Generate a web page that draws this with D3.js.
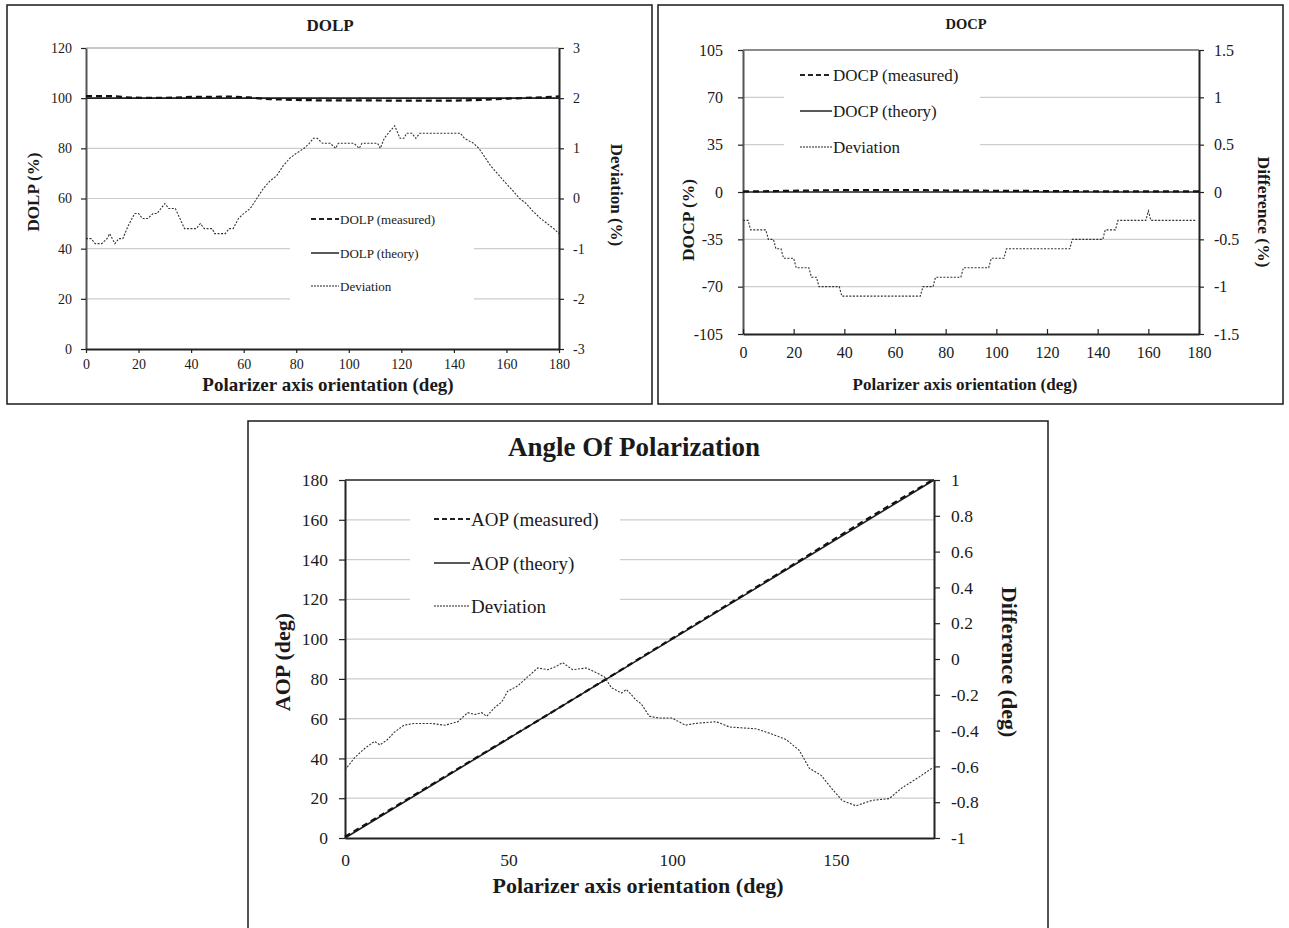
<!DOCTYPE html>
<html>
<head>
<meta charset="utf-8">
<script src="https://cdn.jsdelivr.net/npm/d3@7"></script>
<style>
  body { margin: 0; background: #ffffff; }
  svg text { font-family: "Liberation Serif", Tinos, "DejaVu Serif", serif; fill: #1a1a1a; }
</style>
</head>
<body>
<div id="viz"></div>
<script>
// ---------- data ----------

// DOLP panel
var dolpMeasAngle = [0, 10, 17, 30, 40, 55, 62, 65, 70, 80, 90, 110, 120, 140, 150, 160, 170, 180];
var dolpMeasured = [100.8, 100.8, 100.2, 100.1, 100.5, 100.6, 100.3, 100.0, 99.6, 99.3, 99.1, 99.1, 99.0, 99.0, 99.3, 99.8, 100.2, 100.7];
var dolpTheoryAngle = [0, 180];
var dolpTheory = [100, 100];
var dolpDevAngle = [0, 2, 3.5, 6, 8, 9, 11, 12.5, 14, 16, 18.5, 20, 21.5, 23.5, 25.5, 27, 28.5, 30, 31.5, 34,
  37.5, 42, 43.5, 45, 48, 49, 53, 54.5, 56, 58, 60, 62.5, 65, 67.5, 70, 72.5, 75, 77.5, 80, 83, 85, 86.5, 88,
  90, 93, 95, 96, 102, 104, 105, 111, 112, 113.5, 115, 117.5, 119.5, 121, 122, 124, 125.5, 127, 142.5, 144,
  147.5, 149.5, 151.5, 154, 156.5, 159, 162, 165, 167.5, 170, 173, 175.5, 178, 180];
var dolpDeviation = [-0.8, -0.8, -0.9, -0.9, -0.8, -0.7, -0.9, -0.8, -0.8, -0.55, -0.3, -0.3, -0.4, -0.4, -0.3, -0.3, -0.2, -0.1, -0.2, -0.2,
  -0.6, -0.6, -0.5, -0.6, -0.6, -0.7, -0.7, -0.6, -0.6, -0.4, -0.3, -0.2, 0, 0.2, 0.35, 0.45, 0.65, 0.8, 0.9, 1.0, 1.1, 1.2, 1.2,
  1.1, 1.1, 1.0, 1.1, 1.1, 1.0, 1.1, 1.1, 1.0, 1.2, 1.3, 1.45, 1.2, 1.2, 1.3, 1.3, 1.2, 1.3, 1.3, 1.2,
  1.1, 1.0, 0.85, 0.65, 0.5, 0.35, 0.18, 0, -0.1, -0.25, -0.4, -0.5, -0.6, -0.7];

// DOCP panel
var docpMeasAngle = [0, 10, 20, 30, 40, 70, 80, 100, 110, 130, 145, 150, 180];
var docpMeasured = [0.4, 0.6, 0.9, 1.2, 1.4, 1.4, 1.1, 0.9, 0.8, 0.6, 0.5, 0.4, 0.4];
var docpTheoryAngle = [0, 180];
var docpTheory = [0, 0];
var docpDevAngle = [0, 2, 3, 9, 10, 12, 13, 15, 16, 20, 21, 26, 27, 29, 30, 38, 39, 70, 71, 75, 76, 86, 87,
  97, 98, 103, 104, 129, 130, 142, 143, 147, 148, 159, 160, 161, 179];
var docpDeviation = [-0.3, -0.3, -0.4, -0.4, -0.5, -0.5, -0.6, -0.6, -0.7, -0.7, -0.8, -0.8, -0.9, -0.9, -1.0, -1.0, -1.1, -1.1, -1.0, -1.0, -0.9, -0.9, -0.8,
  -0.8, -0.7, -0.7, -0.6, -0.6, -0.5, -0.5, -0.4, -0.4, -0.3, -0.3, -0.2, -0.3, -0.3];

// AOP panel
var aopMeasAngle = [0, 20, 40, 60, 80, 90, 100, 120, 140, 150, 160, 170, 180];
var aopMeasured = [0.6, 20.4, 40.3, 60.05, 80.1, 90.25, 100.33, 120.38, 140.5, 150.75, 160.8, 170.7, 180.4];
var aopTheoryAngle = [0, 180];
var aopTheory = [0, 180];
var aopDevAngle = [0, 3, 6, 9, 10.7, 13, 15, 18, 21, 26.5, 30.5, 34.5, 37.5, 39.7, 41.8, 43.3, 45.8, 47.9, 49.7,
  52.8, 55.8, 58.9, 62, 64.7, 66.5, 69.6, 73.8, 77.2, 79.3, 81.4, 84.5, 86, 89, 90.5, 93, 96, 100, 104, 107,
  113.5, 117.5, 125.7, 130.6, 134.8, 138.8, 141.9, 145.5, 148.6, 151.9, 156.2, 161, 166.3, 170.2, 175.4, 179.4];
var aopDeviation = [-0.62, -0.55, -0.5, -0.46, -0.48, -0.45, -0.41, -0.37, -0.36, -0.36, -0.37, -0.35, -0.30, -0.31, -0.30, -0.32, -0.27, -0.24, -0.18,
  -0.15, -0.10, -0.05, -0.06, -0.04, -0.02, -0.06, -0.05, -0.08, -0.10, -0.16, -0.19, -0.17, -0.23, -0.25, -0.32, -0.33, -0.33, -0.37, -0.36,
  -0.35, -0.38, -0.39, -0.42, -0.45, -0.51, -0.61, -0.65, -0.72, -0.79, -0.82, -0.79, -0.78, -0.72, -0.66, -0.61];

// tick labels
var dolpXTicks = [0, 20, 40, 60, 80, 100, 120, 140, 160, 180];
var dolpLeftTicks = [0, 20, 40, 60, 80, 100, 120];
var dolpRightTicks = [-3, -2, -1, 0, 1, 2, 3];
var docpXTicks = [0, 20, 40, 60, 80, 100, 120, 140, 160, 180];
var docpLeftTicks = [-105, -70, -35, 0, 35, 70, 105];
var docpRightTicks = [-1.5, -1, -0.5, 0, 0.5, 1, 1.5];
var aopXTicks = [0, 50, 100, 150];
var aopLeftTicks = [0, 20, 40, 60, 80, 100, 120, 140, 160, 180];
var aopRightTicks = [-1, -0.8, -0.6, -0.4, -0.2, 0, 0.2, 0.4, 0.6, 0.8, 1];

// ---------- drawing ----------

var serif = "'Liberation Serif', Tinos, 'DejaVu Serif', serif";

var svg = d3.select("div#viz")
  .append("svg")
  .attr("width", 1289)
  .attr("height", 928)
  .attr("font-family", serif);

// plain hyphen minus like the original, no trailing zeros
var fmt = function (d) {
  return String(+d.toFixed(2));
};

var pairs = function (xs, ys) {
  return xs.map(function (v, i) {
    return [v, ys[i]];
  });
};

var drawPanel = function (p) {

  var x = d3.scaleLinear().domain([0, 180]).range([p.left, p.right]);
  var yL = d3.scaleLinear().domain(p.leftDomain).range([p.bottom, p.top]);
  var yR = d3.scaleLinear().domain(p.rightDomain).range([p.bottom, p.top]);

  var g = svg.append("g");

  // outer frame
  g.append("rect")
    .attr("x", p.frame[0])
    .attr("y", p.frame[1])
    .attr("width", p.frame[2])
    .attr("height", p.frame[3])
    .attr("fill", "none")
    .attr("stroke", "#1a1a1a")
    .attr("stroke-width", 1.5);

  // horizontal grid lines
  g.selectAll("line.grid")
    .data(p.grid)
    .enter()
    .append("line")
    .attr("class", "grid")
    .attr("x1", p.left)
    .attr("x2", p.right)
    .attr("y1", function (d) { return yL(d); })
    .attr("y2", function (d) { return yL(d); })
    .attr("stroke", "#cdcdcd")
    .attr("stroke-width", 1.2);

  // top border of the plot area
  g.append("line")
    .attr("x1", p.left)
    .attr("x2", p.right)
    .attr("y1", p.top)
    .attr("y2", p.top)
    .attr("stroke", p.topColor)
    .attr("stroke-width", 1.5);

  // white legend box hides the grid behind it
  g.append("rect")
    .attr("x", p.legend.x)
    .attr("y", p.legend.y)
    .attr("width", p.legend.w)
    .attr("height", p.legend.h)
    .attr("fill", "#ffffff");

  // axes
  var axL = g.append("g")
    .attr("transform", "translate(" + p.left + ",0)")
    .call(d3.axisLeft(yL).tickValues(p.leftTicks).tickFormat(fmt).tickSizeInner(p.ySize).tickSizeOuter(0).tickPadding(p.yPad));
  var axR = g.append("g")
    .attr("transform", "translate(" + p.right + ",0)")
    .call(d3.axisRight(yR).tickValues(p.rightTicks).tickFormat(fmt).tickSizeInner(p.ySize).tickSizeOuter(0).tickPadding(p.yPadR));
  var axB = g.append("g")
    .attr("transform", "translate(0," + p.bottom + ")")
    .call(d3.axisBottom(x).tickValues(p.xTicks).tickFormat(fmt).tickSizeInner(p.xSize).tickSizeOuter(0).tickPadding(p.xPad));

  [axL, axR, axB].forEach(function (a) {
    a.attr("font-size", p.tickFont).attr("font-family", serif);
    a.select(".domain").attr("stroke", "#222").attr("stroke-width", 2);
    a.selectAll(".tick line").attr("stroke", "#222").attr("stroke-width", 1.2);
  });
  axL.select(".domain").attr("stroke", p.leftAxisColor);

  // series
  var lineL = d3.line()
    .x(function (d) { return x(d[0]); })
    .y(function (d) { return yL(d[1]); });
  var lineR = d3.line()
    .x(function (d) { return x(d[0]); })
    .y(function (d) { return yR(d[1]); });

  g.append("path")
    .datum(pairs(p.theoryAngle, p.theory))
    .attr("d", lineL)
    .attr("fill", "none")
    .attr("stroke", "#222")
    .attr("stroke-width", 1.6);

  g.append("path")
    .datum(pairs(p.measAngle, p.measured))
    .attr("d", lineL)
    .attr("fill", "none")
    .attr("stroke", "#111")
    .attr("stroke-width", 2.2)
    .attr("stroke-dasharray", "6,4");

  g.append("path")
    .datum(pairs(p.devAngle, p.deviation))
    .attr("d", lineR)
    .attr("fill", "none")
    .attr("stroke", "#333")
    .attr("stroke-width", 1.1)
    .attr("stroke-dasharray", "2,1.5");

  // legend entries
  var styles = [
    { dash: "5,3", width: 2.2 },
    { dash: null, width: 1.5 },
    { dash: "2,1", width: 1.1 }
  ];
  p.legend.labels.forEach(function (lab, i) {
    var ly = p.legend.rows[i];
    g.append("line")
      .attr("x1", p.legend.s0)
      .attr("x2", p.legend.s1)
      .attr("y1", ly)
      .attr("y2", ly)
      .attr("stroke", "#222")
      .attr("stroke-width", styles[i].width)
      .attr("stroke-dasharray", styles[i].dash);
    g.append("text")
      .text(lab)
      .attr("x", p.legend.s1 + 1)
      .attr("y", ly)
      .attr("dy", "0.35em")
      .attr("font-size", p.legend.font);
  });

  // titles
  g.append("text").text(p.title)
    .attr("x", p.titlePos[0])
    .attr("y", p.titlePos[1])
    .attr("dy", "0.35em")
    .attr("text-anchor", "middle")
    .attr("font-weight", "bold")
    .attr("font-size", p.titleFont);

  g.append("text").text(p.xTitle)
    .attr("x", p.xTitlePos[0])
    .attr("y", p.xTitlePos[1])
    .attr("dy", "0.35em")
    .attr("text-anchor", "middle")
    .attr("font-weight", "bold")
    .attr("font-size", p.xTitleFont);

  g.append("text").text(p.yTitle)
    .attr("transform", "translate(" + p.yTitlePos[0] + "," + p.yTitlePos[1] + ") rotate(-90)")
    .attr("dy", "0.35em")
    .attr("text-anchor", "middle")
    .attr("font-weight", "bold")
    .attr("font-size", p.axisFont);

  g.append("text").text(p.y2Title)
    .attr("transform", "translate(" + p.y2TitlePos[0] + "," + p.y2TitlePos[1] + ") rotate(90)")
    .attr("dy", "0.35em")
    .attr("text-anchor", "middle")
    .attr("font-weight", "bold")
    .attr("font-size", p.axisFont);
};

// DOLP
drawPanel({
  frame: [7, 5, 645, 399],
  left: 86, right: 559, top: 48, bottom: 349,
  leftDomain: [0, 120], rightDomain: [-3, 3],
  leftTicks: dolpLeftTicks, rightTicks: dolpRightTicks, xTicks: dolpXTicks,
  grid: [20, 40, 60, 80, 100], topColor: "#b5b5b5", leftAxisColor: "#555",
  ySize: 5, yPad: 9, yPadR: 9, xSize: 4, xPad: 6, tickFont: 14,
  measAngle: dolpMeasAngle, measured: dolpMeasured,
  theoryAngle: dolpTheoryAngle, theory: dolpTheory,
  devAngle: dolpDevAngle, deviation: dolpDeviation,
  legend: { x: 290, y: 206, w: 184, h: 96, rows: [219, 253, 286], s0: 311, s1: 339, font: 13,
    labels: ["DOLP (measured)", "DOLP (theory)", "Deviation"] },
  title: "DOLP", titlePos: [330, 25], titleFont: 17,
  xTitle: "Polarizer axis orientation (deg)", xTitlePos: [328, 384], xTitleFont: 19,
  yTitle: "DOLP (%)", yTitlePos: [33, 192],
  y2Title: "Deviation (%)", y2TitlePos: [617, 195], axisFont: 17
});

// DOCP
drawPanel({
  frame: [658, 5, 625, 399],
  left: 743, right: 1199, top: 50, bottom: 334,
  leftDomain: [-105, 105], rightDomain: [-1.5, 1.5],
  leftTicks: docpLeftTicks, rightTicks: docpRightTicks, xTicks: docpXTicks,
  grid: [-70, -35, 35, 70], topColor: "#666", leftAxisColor: "#555",
  ySize: 5, yPad: 15, yPadR: 10, xSize: -5, xPad: 13, tickFont: 16,
  measAngle: docpMeasAngle, measured: docpMeasured,
  theoryAngle: docpTheoryAngle, theory: docpTheory,
  devAngle: docpDevAngle, deviation: docpDeviation,
  legend: { x: 784, y: 58, w: 196, h: 104, rows: [75, 111, 147], s0: 800, s1: 832, font: 17,
    labels: ["DOCP (measured)", "DOCP (theory)", "Deviation"] },
  title: "DOCP", titlePos: [966, 24], titleFont: 14.5,
  xTitle: "Polarizer axis orientation (deg)", xTitlePos: [965, 384], xTitleFont: 17,
  yTitle: "DOCP (%)", yTitlePos: [688, 220],
  y2Title: "Difference (%)", y2TitlePos: [1264, 212], axisFont: 17.5
});

// AOP
drawPanel({
  frame: [248, 421, 800, 530],
  left: 345, right: 934, top: 480, bottom: 838,
  leftDomain: [0, 180], rightDomain: [-1, 1],
  leftTicks: aopLeftTicks, rightTicks: aopRightTicks, xTicks: aopXTicks,
  grid: [20, 40, 60, 80, 100, 120, 140, 160], topColor: "#222", leftAxisColor: "#222",
  ySize: 6, yPad: 11, yPadR: 11, xSize: 0, xPad: 16, tickFont: 17.5,
  measAngle: aopMeasAngle, measured: aopMeasured,
  theoryAngle: aopTheoryAngle, theory: aopTheory,
  devAngle: aopDevAngle, deviation: aopDeviation,
  legend: { x: 410, y: 494, w: 210, h: 130, rows: [519, 563, 606], s0: 434, s1: 470, font: 19,
    labels: ["AOP (measured)", "AOP (theory)", "Deviation"] },
  title: "Angle Of Polarization", titlePos: [634, 447], titleFont: 27,
  xTitle: "Polarizer axis orientation (deg)", xTitlePos: [638, 885], xTitleFont: 22,
  yTitle: "AOP  (deg)", yTitlePos: [282, 662],
  y2Title: "Difference (deg)", y2TitlePos: [1010, 662], axisFont: 22
});
</script>
</body>
</html>
